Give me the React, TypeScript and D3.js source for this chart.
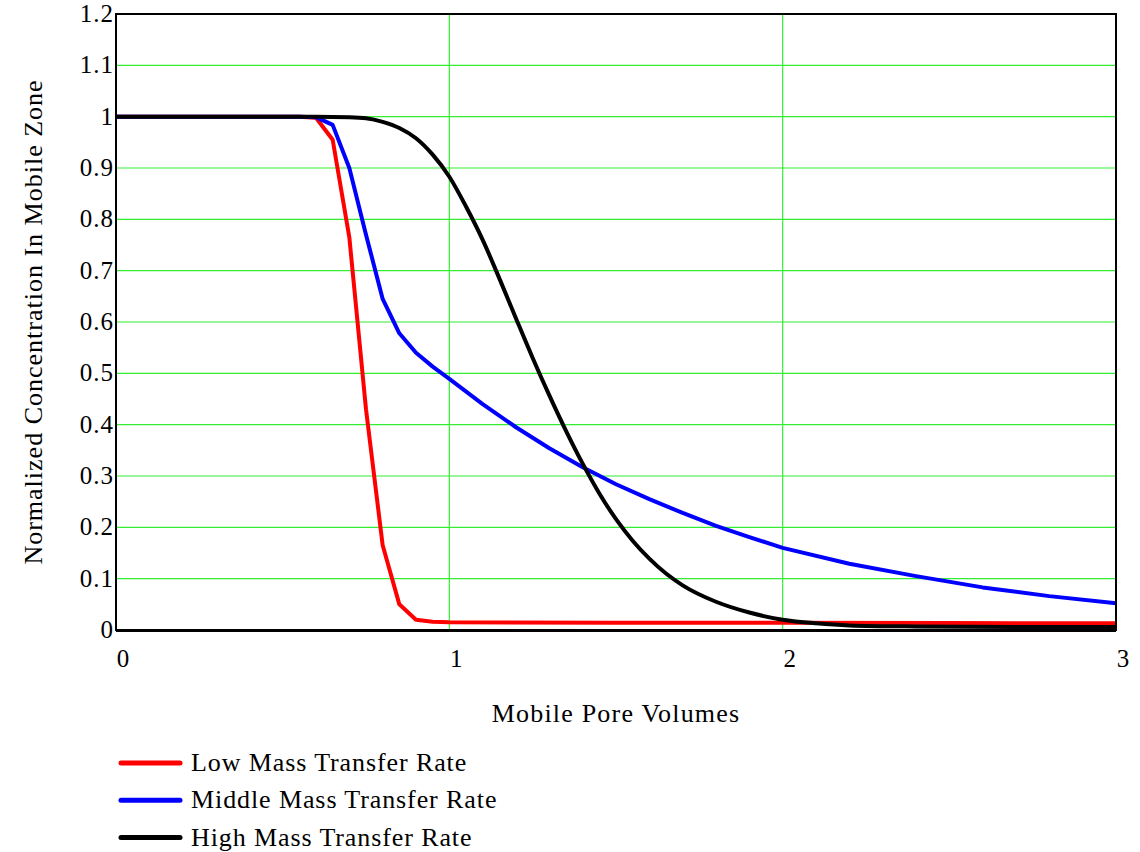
import React, { useEffect, useRef } from 'react';
import * as d3 from 'd3';

// values
const lowX = [0, 0.2, 0.4, 0.55, 0.6, 0.65, 0.7, 0.75, 0.8, 0.85, 0.9, 0.95, 1.0, 1.5, 2.0, 2.5, 3.0];
const lowY = [1.0, 1.0, 1.0, 1.0, 0.998, 0.955, 0.765, 0.43, 0.165, 0.05, 0.02, 0.016, 0.015, 0.014, 0.014, 0.0135, 0.013];

const midX = [0, 0.2, 0.4, 0.55, 0.6, 0.65, 0.7, 0.75, 0.8, 0.85, 0.9, 0.95, 1.0, 1.1, 1.2, 1.3, 1.4, 1.5, 1.6, 1.7, 1.8, 1.9, 2.0, 2.2, 2.4, 2.6, 2.8, 3.0];
const midY = [1.0, 1.0, 1.0, 1.0, 0.999, 0.984, 0.9, 0.77, 0.645, 0.578, 0.54, 0.513, 0.489, 0.44, 0.395, 0.354, 0.317, 0.284, 0.255, 0.228, 0.203, 0.181, 0.16, 0.129, 0.105, 0.083, 0.066, 0.052];

const highX = [0, 0.3, 0.6, 0.7, 0.75, 0.8, 0.85, 0.9, 0.95, 1.0, 1.05, 1.1, 1.15, 1.2, 1.25, 1.3, 1.35, 1.4, 1.45, 1.5, 1.55, 1.6, 1.65, 1.7, 1.8, 1.9, 2.0, 2.1, 2.2, 2.4, 2.7, 3.0];
const highY = [1.0, 1.0, 1.0, 0.999, 0.997, 0.99, 0.978, 0.958, 0.926, 0.883, 0.825, 0.76, 0.685, 0.607, 0.53, 0.457, 0.388, 0.324, 0.266, 0.216, 0.174, 0.139, 0.11, 0.087, 0.055, 0.034, 0.02, 0.013, 0.009, 0.007, 0.006, 0.006];

const seriesNames = ['Low Mass Transfer Rate', 'Middle Mass Transfer Rate', 'High Mass Transfer Rate'];
const seriesColors = ['#ff0000', '#0000ff', '#000000'];

const xTicks = [0, 1, 2, 3];
const yTicks = [0, 0.1, 0.2, 0.3, 0.4, 0.5, 0.6, 0.7, 0.8, 0.9, 1, 1.1, 1.2];

const App = () => {
  const svgRef = useRef(null);

  useEffect(() => {
    const svg = d3.select(svgRef.current);
    svg.selectAll('*').remove();

    const left = 116, right = 1116, top = 14, bottom = 630;
    const font = "'Liberation Serif', 'DejaVu Serif', serif";

    const x = d3.scaleLinear().domain([0, 3]).range([left, right]);
    const y = d3.scaleLinear().domain([0, 1.2]).range([bottom, top]);

    // grid
    const grid = svg.append('g');
    grid.selectAll('.hg')
      .data(yTicks.filter(t => t > 0 && t < 1.2))
      .enter().append('line')
      .attr('x1', left).attr('x2', right)
      .attr('y1', d => y(d)).attr('y2', d => y(d))
      .attr('stroke', '#33ee33').attr('stroke-width', 1.2);
    grid.selectAll('.vg')
      .data(xTicks.filter(t => t > 0 && t < 3))
      .enter().append('line')
      .attr('y1', top).attr('y2', bottom)
      .attr('x1', d => x(d)).attr('x2', d => x(d))
      .attr('stroke', '#33ee33').attr('stroke-width', 1.2);

    // tick labels
    svg.append('g').selectAll('text')
      .data(yTicks)
      .enter().append('text')
      .attr('x', left - 2)
      .attr('y', d => y(d) + 8)
      .attr('text-anchor', 'end')
      .style('font-family', font).style('font-size', '25px').style('letter-spacing', '1px')
      .text(d => String(d));

    svg.append('g').selectAll('text')
      .data(xTicks)
      .enter().append('text')
      .attr('x', d => x(d) + 7)
      .attr('y', bottom + 37)
      .attr('text-anchor', 'middle')
      .style('font-family', font).style('font-size', '25px')
      .text(d => String(d));

    // series
    const all = [
      { xs: lowX, ys: lowY, curve: d3.curveLinear },
      { xs: midX, ys: midY, curve: d3.curveLinear },
      { xs: highX, ys: highY, curve: d3.curveMonotoneX },
    ];
    all.forEach((s, i) => {
      const pts = s.xs.map((v, k) => [v, s.ys[k]]);
      const line = d3.line().x(d => x(d[0])).y(d => y(d[1])).curve(s.curve);
      svg.append('path')
        .datum(pts)
        .attr('d', line)
        .attr('fill', 'none')
        .attr('stroke', seriesColors[i])
        .attr('stroke-width', 4)
        .attr('stroke-linejoin', 'round');
    });

    // frame
    svg.append('rect')
      .attr('x', left).attr('y', top)
      .attr('width', right - left).attr('height', bottom - top)
      .attr('fill', 'none').attr('stroke', '#000').attr('stroke-width', 2);
    svg.append('line')
      .attr('x1', left).attr('x2', right)
      .attr('y1', bottom + 0.5).attr('y2', bottom + 0.5)
      .attr('stroke', '#000').attr('stroke-width', 3);

    // axis titles
    svg.append('text')
      .attr('x', (left + right) / 2)
      .attr('y', 722)
      .attr('text-anchor', 'middle')
      .style('font-family', font).style('font-size', '26px').style('letter-spacing', '1.2px')
      .text('Mobile Pore Volumes');

    svg.append('text')
      .attr('transform', `translate(42,${(top + bottom) / 2}) rotate(-90)`)
      .attr('text-anchor', 'middle')
      .style('font-family', font).style('font-size', '26px').style('letter-spacing', '1px')
      .text('Normalized Concentration In Mobile Zone');

    // legend
    const lg = svg.append('g').selectAll('g')
      .data(seriesNames)
      .enter().append('g')
      .attr('transform', (d, i) => `translate(0,${763 + i * 37.3})`);
    lg.append('line')
      .attr('x1', 121).attr('x2', 180)
      .attr('y1', 0).attr('y2', 0)
      .attr('stroke', (d, i) => seriesColors[i])
      .attr('stroke-width', 5)
      .attr('stroke-linecap', 'round');
    lg.append('text')
      .attr('x', 191).attr('y', 8)
      .style('font-family', font).style('font-size', '26px').style('letter-spacing', '0.9px')
      .text(d => d);
  }, []);

  return (
    <svg
      ref={svgRef}
      width={1140}
      height={852}
      style={{ position: 'absolute', left: 0, top: 0, background: '#fff' }}
    />
  );
};

export default App;
